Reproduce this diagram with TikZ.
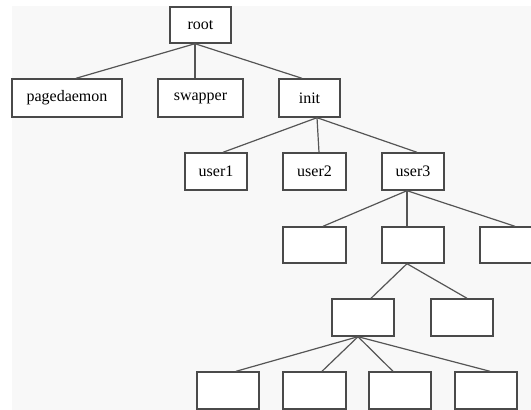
\documentclass[tikz,border=0pt]{standalone}
\usepackage{fontspec}
\setmainfont{Liberation Serif}
\usetikzlibrary{positioning}
\definecolor{edgegray}{HTML}{555555}
\definecolor{boxgray}{HTML}{4A4A4A}
\definecolor{panel}{HTML}{F8F8F8}
\begin{document}
\begin{tikzpicture}[x=1pt,y=-1pt,
  procbox/.style={draw=boxgray,line width=1.4pt,fill=white,inner sep=0pt,
    minimum width=62pt,minimum height=37pt,
    font=\fontsize{16}{19}\selectfont},
  link/.style={draw=edgegray,line width=1.2pt}]
\useasboundingbox (0,0) rectangle (531,410);
\clip (0,0) rectangle (531,410);
\fill[panel] (12,6) rectangle (531,410);

% process tree
\node[procbox,minimum width=61pt,minimum height=36pt] (root) at (200.5,25) {root};
\node[procbox,minimum width=110pt,minimum height=38pt] (pd) at (67,98) {pagedaemon};
\node[procbox,minimum width=85pt,minimum height=38pt] (sw) at (200.5,98) {swapper};
\node[procbox,minimum width=61pt,minimum height=38pt] (init) at (309.5,98) {init};

\node[procbox] (u1) at (216,171.5) {user1};
\node[procbox,minimum width=63pt] (u2) at (314.5,171.5) {user2};
\node[procbox] (u3) at (413,171.5) {user3};

\node[procbox,minimum width=63pt,minimum height=36pt] (c1) at (314.5,245) {};
\node[procbox,minimum height=36pt] (c2) at (413,245) {};
\node[procbox,minimum height=36pt] (c3) at (511,245) {};

\node[procbox] (d1) at (363,317.5) {};
\node[procbox] (d2) at (462,317.5) {};

\node[procbox] (e1) at (228,390.5) {};
\node[procbox,minimum width=63pt] (e2) at (314.5,390.5) {};
\node[procbox] (e3) at (400,390.5) {};
\node[procbox] (e4) at (486,390.5) {};

% connectors
\draw[link] ([xshift=-5.5pt]root.south) -- ([xshift=9pt]pd.north);
\draw[link] ([xshift=-5.5pt]root.south) -- ([xshift=-5.5pt]sw.north);
\draw[link] ([xshift=-5.5pt]root.south) -- ([xshift=-7.5pt]init.north);

\draw[link] ([xshift=7.5pt]init.south) -- ([xshift=7pt]u1.north);
\draw[link] ([xshift=7.5pt]init.south) -- ([xshift=4.5pt]u2.north);
\draw[link] ([xshift=7.5pt]init.south) -- ([xshift=4pt]u3.north);

\draw[link] ([xshift=-6pt]u3.south) -- ([xshift=8.5pt]c1.north);
\draw[link] ([xshift=-6pt]u3.south) -- ([xshift=-6pt]c2.north);
\draw[link] ([xshift=-6pt]u3.south) -- ([xshift=4pt]c3.north);

\draw[link] ([xshift=-6pt]c2.south) -- ([xshift=8pt]d1.north);
\draw[link] ([xshift=-6pt]c2.south) -- ([xshift=5pt]d2.north);

\draw[link] ([xshift=-5pt]d1.south) -- ([xshift=8pt]e1.north);
\draw[link] ([xshift=-5pt]d1.south) -- ([xshift=7.5pt]e2.north);
\draw[link] ([xshift=-5pt]d1.south) -- ([xshift=-7pt]e3.north);
\draw[link] ([xshift=-5pt]d1.south) -- ([xshift=4pt]e4.north);
\end{tikzpicture}
\end{document}
